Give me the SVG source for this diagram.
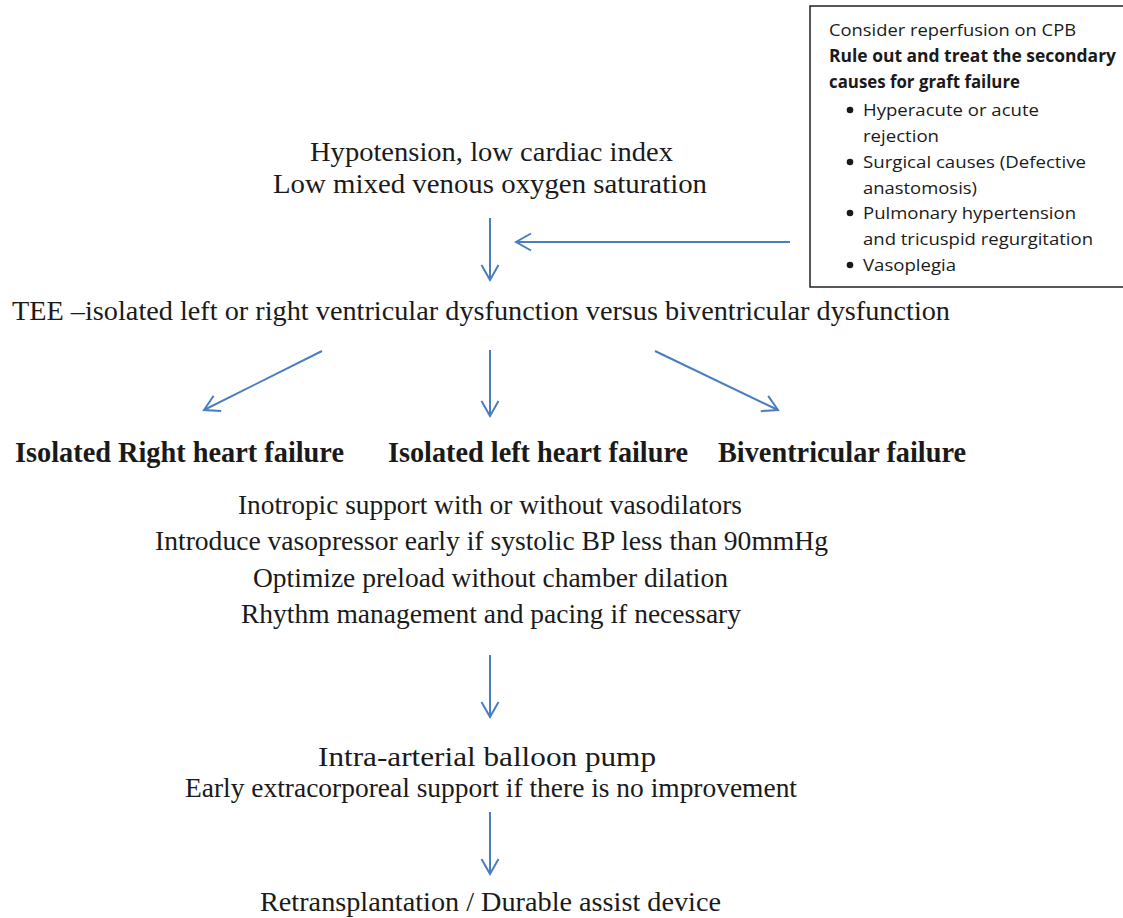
<svg xmlns="http://www.w3.org/2000/svg" width="1123" height="918" viewBox="0 0 1123 918">
  <style>
    .serif { font-family: "Liberation Serif", "Times New Roman", serif; fill: #1a1a1a; }
    .main { font-size: 27px; }
    .step { font-size: 28px; }
    .bold { font-size: 29px; font-weight: bold; }
    .note { font-family: "Open Sans", "Liberation Sans", sans-serif; font-size: 17px; fill: #1a1a1a; }
    .note-b { font-weight: bold; }
    .dot { fill: #1a1a1a; }
    .conn { stroke: #4a7ebf; stroke-width: 2; fill: none; marker-end: url(#head); }
  </style>
  <defs>
    <marker id="head" viewBox="-16 -10 18 20" markerWidth="18" markerHeight="20" refX="0" refY="0" orient="auto" markerUnits="userSpaceOnUse">
      <path d="M -15 -8.5 L 0 0 L -15 8.5" stroke="#4a7ebf" stroke-width="2" fill="none"/>
    </marker>
  </defs>
  <rect width="1123" height="918" fill="#ffffff"/>

  <!-- secondary causes panel -->
  <g id="secondary-causes">
    <rect x="810" y="6" width="330" height="281" fill="#ffffff" stroke="#222222" stroke-width="1.5"/>
    <text class="note" x="829" y="36" textLength="247" lengthAdjust="spacingAndGlyphs">Consider reperfusion on CPB</text>
    <text class="note note-b" x="829" y="62" textLength="287" lengthAdjust="spacingAndGlyphs">Rule out and treat the secondary</text>
    <text class="note note-b" x="829" y="88" textLength="191" lengthAdjust="spacingAndGlyphs">causes for graft failure</text>
    <circle class="dot" cx="850" cy="110" r="3.3"/>
    <text class="note" x="863" y="116" textLength="176" lengthAdjust="spacingAndGlyphs">Hyperacute or acute</text>
    <text class="note" x="863" y="142" textLength="76" lengthAdjust="spacingAndGlyphs">rejection</text>
    <circle class="dot" cx="850" cy="162" r="3.3"/>
    <text class="note" x="863" y="168" textLength="223" lengthAdjust="spacingAndGlyphs">Surgical causes (Defective</text>
    <text class="note" x="863" y="194" textLength="114" lengthAdjust="spacingAndGlyphs">anastomosis)</text>
    <circle class="dot" cx="850" cy="213" r="3.3"/>
    <text class="note" x="863" y="219" textLength="213" lengthAdjust="spacingAndGlyphs">Pulmonary hypertension</text>
    <text class="note" x="863" y="245" textLength="230" lengthAdjust="spacingAndGlyphs">and tricuspid regurgitation</text>
    <circle class="dot" cx="850" cy="265" r="3.3"/>
    <text class="note" x="863" y="271" textLength="93" lengthAdjust="spacingAndGlyphs">Vasoplegia</text>
  </g>

  <g id="presentation">
    <text class="serif main" x="310" y="161" textLength="363" lengthAdjust="spacingAndGlyphs">Hypotension, low cardiac index</text>
    <text class="serif main" x="273" y="193" textLength="434" lengthAdjust="spacingAndGlyphs">Low mixed venous oxygen saturation</text>
  </g>

  <g id="tee">
    <text class="serif main" x="12" y="320" textLength="938" lengthAdjust="spacingAndGlyphs">TEE –isolated left or right ventricular dysfunction versus biventricular dysfunction</text>
  </g>

  <g id="right-failure">
    <text class="serif bold" x="15" y="462" textLength="329" lengthAdjust="spacingAndGlyphs">Isolated Right heart failure</text>
  </g>
  <g id="left-failure">
    <text class="serif bold" x="388" y="462" textLength="300" lengthAdjust="spacingAndGlyphs">Isolated left heart failure</text>
  </g>
  <g id="biventricular-failure">
    <text class="serif bold" x="718" y="462" textLength="248" lengthAdjust="spacingAndGlyphs">Biventricular failure</text>
  </g>

  <g id="medical-management">
    <text class="serif step" x="238" y="514" textLength="504" lengthAdjust="spacingAndGlyphs">Inotropic support with or without vasodilators</text>
    <text class="serif step" x="155" y="550" textLength="673" lengthAdjust="spacingAndGlyphs">Introduce vasopressor early if systolic BP less than 90mmHg</text>
    <text class="serif step" x="253" y="587" textLength="475" lengthAdjust="spacingAndGlyphs">Optimize preload without chamber dilation</text>
    <text class="serif step" x="241" y="623" textLength="500" lengthAdjust="spacingAndGlyphs">Rhythm management and pacing if necessary</text>
  </g>

  <g id="mechanical-support">
    <text class="serif step" x="318" y="766" textLength="338" lengthAdjust="spacingAndGlyphs">Intra-arterial balloon pump</text>
    <text class="serif step" x="185" y="797" textLength="612" lengthAdjust="spacingAndGlyphs">Early extracorporeal support if there is no improvement</text>
  </g>

  <g id="definitive-therapy">
    <text class="serif step" x="260" y="911" textLength="461" lengthAdjust="spacingAndGlyphs">Retransplantation / Durable assist device</text>
  </g>

  <g id="connectors">
    <line class="conn" x1="490" y1="218" x2="490" y2="280"/>
    <line class="conn" x1="790" y1="242" x2="516" y2="242"/>
    <line class="conn" x1="322" y1="351" x2="204" y2="410"/>
    <line class="conn" x1="490" y1="350" x2="490" y2="416"/>
    <line class="conn" x1="655" y1="351" x2="778" y2="410"/>
    <line class="conn" x1="490" y1="655" x2="490" y2="717"/>
    <line class="conn" x1="490" y1="812" x2="490" y2="874"/>
  </g>
</svg>
